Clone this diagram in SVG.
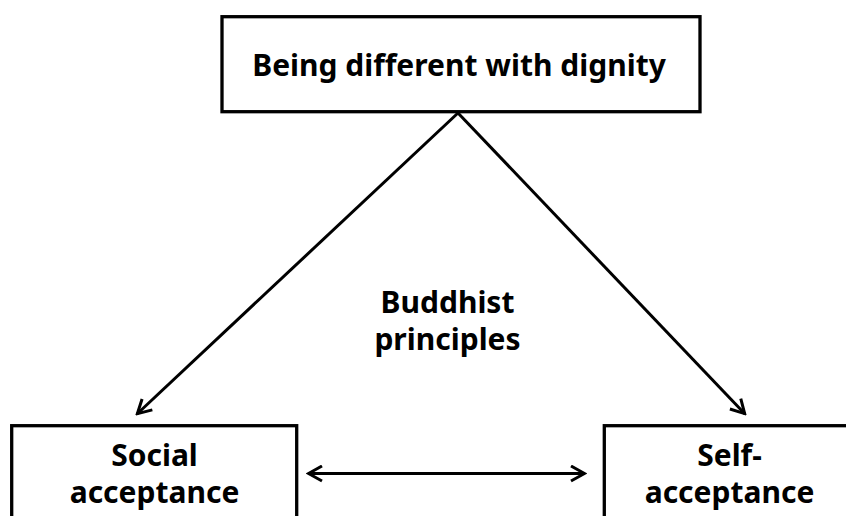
<svg xmlns="http://www.w3.org/2000/svg" width="846" height="516" viewBox="0 0 846 516">
<defs>
<marker id="ah" viewBox="0 0 18 18" refX="16" refY="9" markerWidth="18" markerHeight="18" markerUnits="userSpaceOnUse" orient="auto-start-reverse">
<path d="M2,1.5 L15.5,9 L2,16.5" fill="none" stroke="#000" stroke-width="3" stroke-linejoin="miter"/>
</marker>
</defs>
<style>
.box{fill:#fff;stroke:#000;stroke-width:3.3}
.t{font-family:"Noto Sans","DejaVu Sans",sans-serif;font-weight:bold;font-size:30px;fill:#000;text-anchor:middle}
.c{stroke:#000;stroke-width:3;fill:none}
</style>
<rect width="846" height="516" fill="#fff"/>
<g id="connectors">
<line class="c" x1="458" y1="113" x2="137" y2="414" marker-end="url(#ah)"/>
<line class="c" x1="458" y1="113" x2="745" y2="414" marker-end="url(#ah)"/>
<line class="c" x1="308" y1="473.5" x2="585" y2="473.5" marker-start="url(#ah)" marker-end="url(#ah)"/>
</g>
<g id="top">
<rect class="box" x="222" y="16.7" width="478" height="95"/>
<text class="t" x="459" y="76">Being different with dignity</text>
</g>
<g id="principles">
<text class="t" x="447.5" y="313">Buddhist</text>
<text class="t" x="447.5" y="350">principles</text>
</g>
<g id="social">
<rect class="box" x="11.7" y="425.7" width="285" height="100"/>
<text class="t" x="154.5" y="466">Social</text>
<text class="t" x="154.5" y="503">acceptance</text>
</g>
<g id="self">
<rect class="box" x="604.3" y="425.7" width="260" height="100"/>
<text class="t" x="729.5" y="466">Self-</text>
<text class="t" x="729.5" y="503">acceptance</text>
</g>
</svg>
